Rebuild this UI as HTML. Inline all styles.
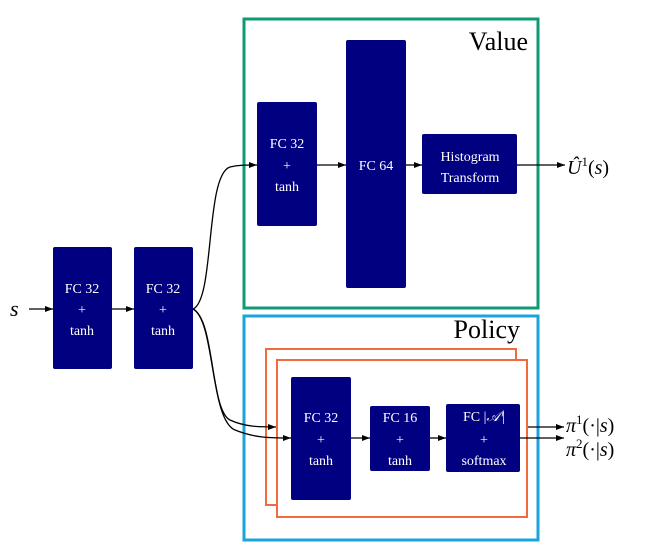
<!DOCTYPE html>
<html><head><meta charset="utf-8"><style>
html,body{margin:0;padding:0;background:#fff;width:650px;height:560px;overflow:hidden}
svg{display:block}
.b{fill:#000080}
.t{fill:#fff;font-family:"Liberation Serif",serif;font-size:14px;text-anchor:middle}
.m{font-family:"Liberation Serif",serif;fill:#000}
</style></head><body>
<svg width="650" height="560" viewBox="0 0 650 560" xmlns="http://www.w3.org/2000/svg">
<defs><marker id="a" markerWidth="8" markerHeight="6" refX="8" refY="3" orient="auto" markerUnits="userSpaceOnUse"><path d="M0,0 L8,3 L0,6 z" fill="#000"/></marker></defs>
<rect x="244" y="19" width="294" height="289" fill="none" stroke="#0f9a76" stroke-width="3"/>
<rect x="244" y="316" width="294" height="224" fill="none" stroke="#1aa3dc" stroke-width="3"/>
<rect x="266" y="349" width="250" height="156" fill="#fff" stroke="#f06a3c" stroke-width="2"/>
<rect x="277" y="360" width="250" height="157" fill="#fff" stroke="#f06a3c" stroke-width="2"/>
<text class="m" x="528" y="50" font-size="26" text-anchor="end">Value</text>
<text class="m" x="520" y="338" font-size="26" text-anchor="end">Policy</text>
<rect class="b" x="53" y="247" width="59" height="122" rx="2"/>
<rect class="b" x="134" y="247" width="59" height="122" rx="2"/>
<rect class="b" x="257" y="102" width="60" height="124" rx="2"/>
<rect class="b" x="346" y="40" width="60" height="248" rx="2"/>
<rect class="b" x="422" y="134" width="95" height="60" rx="2"/>
<rect class="b" x="291" y="377" width="60" height="123" rx="2"/>
<rect class="b" x="370" y="406" width="60" height="65" rx="2"/>
<rect class="b" x="446" y="404" width="74" height="68" rx="2"/>
<text class="t" x="82" y="293">FC 32</text><text class="t" x="82" y="314">+</text><text class="t" x="82" y="335">tanh</text>
<text class="t" x="163" y="293">FC 32</text><text class="t" x="163" y="314">+</text><text class="t" x="163" y="335">tanh</text>
<text class="t" x="287" y="148">FC 32</text><text class="t" x="287" y="170">+</text><text class="t" x="287" y="191">tanh</text>
<text class="t" x="376" y="170">FC 64</text>
<text class="t" x="470" y="161">Histogram</text><text class="t" x="470" y="182">Transform</text>
<text class="t" x="321" y="422">FC 32</text><text class="t" x="321" y="444">+</text><text class="t" x="321" y="465">tanh</text>
<text class="t" x="400" y="422">FC 16</text><text class="t" x="400" y="444">+</text><text class="t" x="400" y="465">tanh</text>
<text class="t" x="484" y="421">FC |<tspan font-style="italic">𝒜ⁱ</tspan>|</text><text class="t" x="484" y="444">+</text><text class="t" x="484" y="465">softmax</text>
<g stroke="#000" stroke-width="1.3" fill="none">
<line x1="29" y1="309" x2="53" y2="309" marker-end="url(#a)"/>
<line x1="112" y1="309" x2="134" y2="309" marker-end="url(#a)"/>
<path d="M193,309 C215,300 205,175 230,167 C238,165 245,165 257,165" marker-end="url(#a)"/>
<path d="M193,309 C215,320 210,410 230,420 C245,427 260,427 276,427" marker-end="url(#a)"/>
<path d="M193,309 C215,320 210,420 235,430 C255,438 270,438 291,438" marker-end="url(#a)"/>
<line x1="317" y1="165" x2="346" y2="165" marker-end="url(#a)"/>
<line x1="406" y1="165" x2="422" y2="165" marker-end="url(#a)"/>
<line x1="517" y1="165" x2="565" y2="165" marker-end="url(#a)"/>
<line x1="351" y1="438" x2="370" y2="438" marker-end="url(#a)"/>
<line x1="430" y1="438" x2="446" y2="438" marker-end="url(#a)"/>
<line x1="528" y1="427" x2="564" y2="427" marker-end="url(#a)"/>
<line x1="520" y1="438" x2="564" y2="438" marker-end="url(#a)"/>
</g>
<text class="m" x="10" y="316" font-size="22" font-style="italic">s</text>
<text class="m" x="567" y="174" font-size="20"><tspan font-style="italic">Û</tspan><tspan font-size="13" dy="-8">1</tspan><tspan dy="8">(</tspan><tspan font-style="italic">s</tspan>)</text>
<text class="m" x="566" y="432" font-size="20"><tspan font-style="italic">π</tspan><tspan font-size="13" dy="-8">1</tspan><tspan dy="8">(·|</tspan><tspan font-style="italic">s</tspan>)</text>
<text class="m" x="566" y="456" font-size="20"><tspan font-style="italic">π</tspan><tspan font-size="13" dy="-8">2</tspan><tspan dy="8">(·|</tspan><tspan font-style="italic">s</tspan>)</text>
</svg>
</body></html>
